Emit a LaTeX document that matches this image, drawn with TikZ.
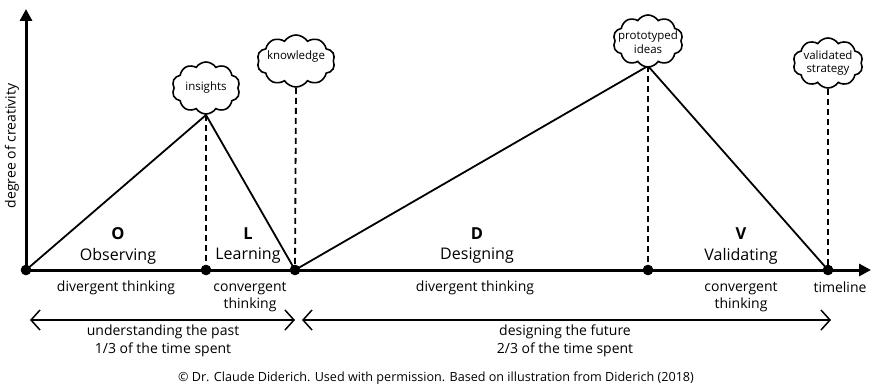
\documentclass[tikz,border=0pt]{standalone}
\usepackage{fontspec}
\setmainfont{Open Sans}
\usetikzlibrary{arrows.meta,shapes.symbols}

\begin{document}
\begin{tikzpicture}[x=1pt,y=-1pt,
  axis/.style={line width=3pt},
  phase/.style={line width=1.8pt},
  guide/.style={line width=1.8pt, dash pattern=on 6pt off 4pt},
  span/.style={line width=1.5pt, {Straight Barb[length=9pt,width=20pt,line width=1.5pt]}-{Straight Barb[length=9pt,width=20pt,line width=1.5pt]}},
  dot/.style={circle, fill, inner sep=0pt, minimum size=10pt},
  thought/.style={cloud, cloud ignores aspect, draw, line width=1.6pt, cloud puffs=10, cloud puff arc=115,
    inner sep=0pt, minimum width=68pt, minimum height=50pt, fill=white},
  thoughttext/.style={font=\fontsize{11.5}{13.5}\selectfont, align=center, inner sep=0pt},
  letter/.style={font=\fontsize{16.5}{19}\selectfont\bfseries, inner sep=0pt},
  phasename/.style={font=\fontsize{16}{18}\selectfont, inner sep=0pt},
  small/.style={font=\fontsize{14}{17.5}\selectfont, align=center, inner sep=0pt},
]
\useasboundingbox (0,0) rectangle (872,390);

% timeline points
\node[dot] (p0) at (26,270) {};
\node[dot] (p1) at (206,270) {};
\node[dot] (p2) at (295,270) {};
\node[dot] (p3) at (648,270) {};
\node[dot] (p4) at (828,270) {};
\coordinate (ytip) at (26,9);
\coordinate (xtip) at (871,270);

% peaks of the two triangles
\coordinate (pk1) at (206,115);
\coordinate (pk2) at (648,66);

% axes
\draw[axis,-{Triangle[length=12pt,width=12pt]}] (p0.center) -- (ytip);
\draw[axis,-{Triangle[length=12pt,width=12pt]}] (p0.center) -- (xtip);

% triangles
\draw[phase, line join=miter] (p0.center) -- (pk1) -- (p2.center);
\draw[phase, line join=miter] (p2.center) -- (pk2) -- (p4.center);

% clouds
\node[thought, minimum width=68pt, minimum height=52pt] (c1) at (206,88) {};
\node[thoughttext] (t1) at (c1.center) {insights};
\node[thought, minimum width=78pt, minimum height=52pt] (c2) at (296,61) {};
\node[thoughttext] (t2) at (296,57) {knowledge};
\node[thought, minimum width=70pt, minimum height=52pt] (c3) at (648,41) {};
\node[thoughttext] (t3) at (648,42) {prototyped\\ideas};
\node[thought, minimum width=70pt, minimum height=50pt] (c4) at (828,63) {};
\node[thoughttext] (t4) at (828,63) {validated\\strategy};

% dashed guides
\draw[guide] (pk1) -- (p1.center);
\draw[guide] (c2.south) -- (p2.center);
\draw[guide] (pk2) -- (p3.center);
\draw[guide] (c4.south) -- (p4.center);

% redraw dots on top
\fill (p0) circle (5.3pt) (p1) circle (5.3pt) (p2) circle (5.3pt) (p3) circle (5.3pt) (p4) circle (5.3pt);

% phase labels
\node[letter] (lo) at (118,234) {O};
\node[phasename] (no) at (118,256) {Observing};
\node[letter] (ll) at (248,234) {L};
\node[phasename] (nl) at (248,256) {Learning};
\node[letter] (ld) at (477,234) {D};
\node[phasename] (nd) at (477,256) {Designing};
\node[letter] (lv) at (741,234) {V};
\node[phasename] (nv) at (741,256) {Validating};

% thinking modes
\node[small] (m1) at (116,288) {divergent thinking};
\node[small] (m2) at (250,297) {convergent\\thinking};
\node[small] (m3) at (475,288) {divergent thinking};
\node[small] (m4) at (741,297) {convergent\\thinking};
\node[small] (tl) at (840,287) {timeline};

% axis label
\node[small, rotate=90] (yl) at (12,146) {degree of creativity};

% time spans
\coordinate (pa) at (30,320);
\coordinate (pb) at (295,320);
\coordinate (fa) at (302,320);
\coordinate (fb) at (831,320);
\draw[span] (pa) -- (pb);
\draw[span] (fa) -- (fb);
\node[small] (s1) at (163,341) {understanding the past\\1/3 of the time spent};
\node[small] (s2) at (565,341) {designing the future\\2/3 of the time spent};

% credit line
\node[font=\fontsize{12.6}{14}\selectfont, inner sep=0pt] (cr) at (436,378)
  {© Dr. Claude Diderich. Used with permission. Based on illustration from Diderich (2018)};
\end{tikzpicture}
\end{document}
